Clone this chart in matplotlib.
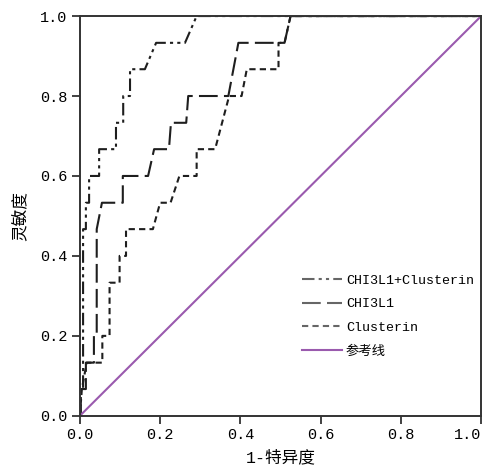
import matplotlib
matplotlib.use("Agg")
import matplotlib.pyplot as plt

# mono latin glyphs (like SimHei half-width) plus CJK fallback
plt.rcParams['font.family'] = ['Liberation Mono', 'Noto Sans CJK SC']

# ROC curve points (1-specificity, sensitivity)
combFpr = [0, 0.0025, 0.0025, 0.008, 0.008, 0.015, 0.015, 0.023, 0.023, 0.048, 0.048,
           0.09, 0.09, 0.108, 0.108, 0.125, 0.125, 0.162, 0.19, 0.262, 0.291, 1.0]
combTpr = [0, 0, 0.067, 0.067, 0.467, 0.467, 0.533, 0.533, 0.6, 0.6, 0.667,
           0.667, 0.733, 0.733, 0.8, 0.8, 0.867, 0.867, 0.933, 0.933, 1.0, 1.0]

chiFpr = [0, 0, 0.015, 0.015, 0.035, 0.035, 0.042, 0.042, 0.055, 0.107, 0.107,
          0.17, 0.185, 0.222, 0.227, 0.265, 0.27, 0.37, 0.395, 0.51, 0.525, 1.0]
chiTpr = [0, 0.067, 0.067, 0.133, 0.133, 0.2, 0.2, 0.467, 0.533, 0.533, 0.6,
          0.6, 0.667, 0.667, 0.733, 0.733, 0.8, 0.8, 0.933, 0.933, 1.0, 1.0]

cluFpr = [0, 0.005, 0.017, 0.056, 0.056, 0.074, 0.074, 0.099, 0.099, 0.115, 0.115,
          0.182, 0.2, 0.226, 0.248, 0.291, 0.291, 0.337, 0.372, 0.403, 0.416, 0.495,
          0.495, 0.51, 0.525, 1.0]
cluTpr = [0, 0.067, 0.133, 0.133, 0.2, 0.2, 0.333, 0.333, 0.4, 0.4, 0.467,
          0.467, 0.533, 0.533, 0.6, 0.6, 0.667, 0.667, 0.8, 0.8, 0.867, 0.867,
          0.933, 0.933, 1.0, 1.0]

refLine = [0, 1]
ticks = [0.0, 0.2, 0.4, 0.6, 0.8, 1.0]
tickLabels = ['0.0', '0.2', '0.4', '0.6', '0.8', '1.0']
names = ['CHI3L1+Clusterin', 'CHI3L1', 'Clusterin', '参考线']

fig = plt.figure(figsize=(4.93, 4.72), dpi=100)
ax = fig.add_axes([0.162, 0.119, 0.814, 0.847])

lineColor = '#1e1e1e'
ax.plot(combFpr, combTpr, color=lineColor, lw=1.5,
        linestyle=(0, (6, 2, 1.5, 2, 1.5, 2)), label=names[0])
ax.plot(chiFpr, chiTpr, color=lineColor, lw=1.5,
        linestyle=(0, (9, 3)), label=names[1])
ax.plot(cluFpr, cluTpr, color=lineColor, lw=1.5,
        linestyle=(0, (3, 2)), label=names[2])
ax.plot(refLine, refLine, color='#9a5aae', lw=1.5, label=names[3])

ax.set_xlim(0, 1)
ax.set_ylim(0, 1)
ax.set_xticks(ticks)
ax.set_xticklabels(tickLabels)
ax.set_yticks(ticks)
ax.set_yticklabels(tickLabels)
ax.tick_params(direction='out', length=6, width=1.3, colors='#333333',
               labelsize=11, labelcolor='black', pad=3)
# last x label sits on the right edge, as in the source
ax.get_xticklabels()[-1].set_horizontalalignment('right')
for s in ax.spines.values():
    s.set_linewidth(1.4)
    s.set_color('#333333')

ax.set_xlabel('1-特异度', fontsize=12, labelpad=5)
ax.set_ylabel('灵敏度', fontsize=12, labelpad=9)

leg = ax.legend(loc='center left', bbox_to_anchor=(0.54, 0.25), frameon=False,
                fontsize=9.6, handlelength=3.0, handletextpad=0.3,
                labelspacing=0.85, borderaxespad=0)
for h in leg.get_lines()[:3]:
    h.set_color('#666666')

fig.savefig('out.png', dpi=100)
